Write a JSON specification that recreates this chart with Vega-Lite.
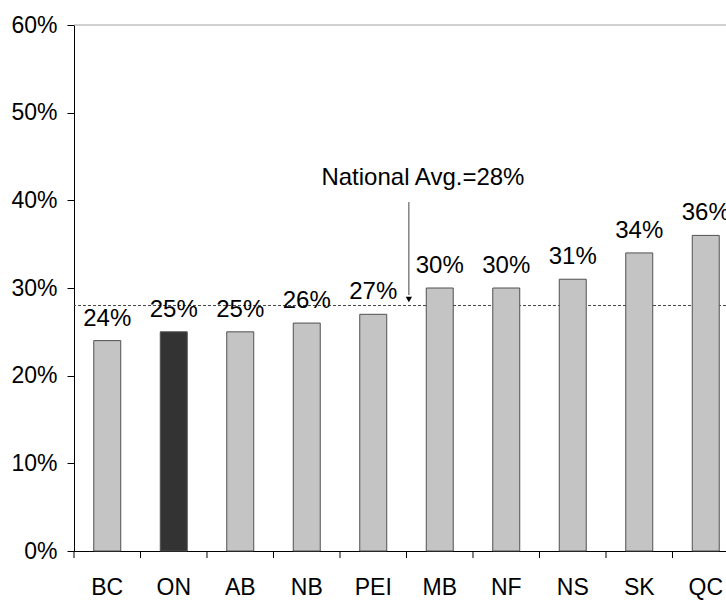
{
  "$schema": "https://vega.github.io/schema/vega-lite/v6.json",
  "autosize": "none",
  "padding": {"left": 74, "top": 25, "right": 0, "bottom": 49},
  "width": 652,
  "height": 526,
  "background": "white",
  "datasets": {
    "bars": [
      {"prov": "BC", "v": 0.24},
      {"prov": "ON", "v": 0.25},
      {"prov": "AB", "v": 0.25},
      {"prov": "NB", "v": 0.26},
      {"prov": "PEI", "v": 0.27},
      {"prov": "MB", "v": 0.30},
      {"prov": "NF", "v": 0.30},
      {"prov": "NS", "v": 0.31},
      {"prov": "SK", "v": 0.34},
      {"prov": "QC", "v": 0.36}
    ],
    "first": [{"prov": "BC"}],
    "avg": [{"v": 0.28}],
    "top": [{"v": 0.6}],
    "arrow": [{"prov": "PEI", "v": 0.398, "v2": 0.292, "tip": 0.287}],
    "note": [{"prov": "PEI", "v": 0.425, "label": "National Avg.=28%"}]
  },
  "layer": [
    {
      "data": {"name": "top"},
      "mark": {"type": "rule", "color": "#a0a0a0", "strokeWidth": 1},
      "encoding": {"y": {"field": "v", "type": "quantitative", "axis": {"title": null}}}
    },
    {
      "data": {"name": "avg"},
      "mark": {"type": "rule", "color": "#444444", "strokeWidth": 1, "strokeDash": [3, 2]},
      "encoding": {"y": {"field": "v", "type": "quantitative", "axis": {"title": null}}}
    },
    {
      "data": {"name": "bars"},
      "mark": {"type": "bar", "stroke": "#505050", "strokeWidth": 1},
      "encoding": {
        "x": {
          "field": "prov", "type": "nominal",
          "sort": ["BC", "ON", "AB", "NB", "PEI", "MB", "NF", "NS", "SK", "QC"],
          "scale": {"range": [0, 665], "paddingInner": 0.594, "paddingOuter": 0.297},
          "axis": {"title": null, "labelAngle": 0, "ticks": false, "labelPadding": 25, "labelFontSize": 23}
        },
        "y": {
          "field": "v", "type": "quantitative",
          "scale": {"domain": [0, 0.6], "nice": false},
          "axis": {"title": null, "values": [0, 0.1, 0.2, 0.3, 0.4, 0.5, 0.6], "format": ".0%", "labelFontSize": 23, "tickSize": 7, "labelPadding": 10}
        },
        "fill": {"condition": {"test": "datum.prov === 'ON'", "value": "#333333"}, "value": "#c4c4c4"}
      }
    },
    {
      "data": {"name": "bars"},
      "mark": {"type": "rule", "color": "#000000", "strokeWidth": 1},
      "encoding": {
        "x": {"field": "prov", "type": "nominal", "sort": ["BC", "ON", "AB", "NB", "PEI", "MB", "NF", "NS", "SK", "QC"], "bandPosition": 1.7315},
        "y": {"datum": 0, "type": "quantitative"},
        "y2": {"datum": -0.008}
      }
    },
    {
      "data": {"name": "first"},
      "mark": {"type": "rule", "color": "#000000", "strokeWidth": 1},
      "encoding": {
        "x": {"field": "prov", "type": "nominal", "sort": ["BC", "ON", "AB", "NB", "PEI", "MB", "NF", "NS", "SK", "QC"], "bandPosition": -0.7315},
        "y": {"datum": 0, "type": "quantitative"},
        "y2": {"datum": -0.008}
      }
    },
    {
      "data": {"name": "bars"},
      "mark": {"type": "text", "baseline": "alphabetic", "dy": -15, "fontSize": 24, "color": "#000"},
      "encoding": {
        "x": {"field": "prov", "type": "nominal", "sort": ["BC", "ON", "AB", "NB", "PEI", "MB", "NF", "NS", "SK", "QC"]},
        "y": {"field": "v", "type": "quantitative"},
        "text": {"field": "v", "type": "quantitative", "format": ".0%"}
      }
    },
    {
      "data": {"name": "arrow"},
      "mark": {"type": "rule", "color": "#444444", "strokeWidth": 1},
      "encoding": {
        "x": {"field": "prov", "type": "nominal", "sort": ["BC", "ON", "AB", "NB", "PEI", "MB", "NF", "NS", "SK", "QC"], "bandPosition": 1.82},
        "y": {"field": "v", "type": "quantitative"},
        "y2": {"field": "v2"}
      }
    },
    {
      "data": {"name": "arrow"},
      "mark": {"type": "point", "shape": "triangle-down", "filled": true, "color": "#000", "size": 40, "opacity": 1},
      "encoding": {
        "x": {"field": "prov", "type": "nominal", "sort": ["BC", "ON", "AB", "NB", "PEI", "MB", "NF", "NS", "SK", "QC"], "bandPosition": 1.82},
        "y": {"field": "tip", "type": "quantitative"}
      }
    },
    {
      "data": {"name": "note"},
      "mark": {"type": "text", "baseline": "middle", "align": "center", "fontSize": 24, "color": "#000"},
      "encoding": {
        "x": {"field": "prov", "type": "nominal", "sort": ["BC", "ON", "AB", "NB", "PEI", "MB", "NF", "NS", "SK", "QC"], "bandPosition": 2.34},
        "y": {"field": "v", "type": "quantitative"},
        "text": {"field": "label"}
      }
    }
  ],
  "config": {
    "view": {"stroke": null},
    "font": "Liberation Sans",
    "axis": {"domainColor": "#000000", "tickColor": "#000000", "labelColor": "#000000", "labelFont": "Liberation Sans", "grid": false, "domainWidth": 1, "tickWidth": 1}
  }
}
